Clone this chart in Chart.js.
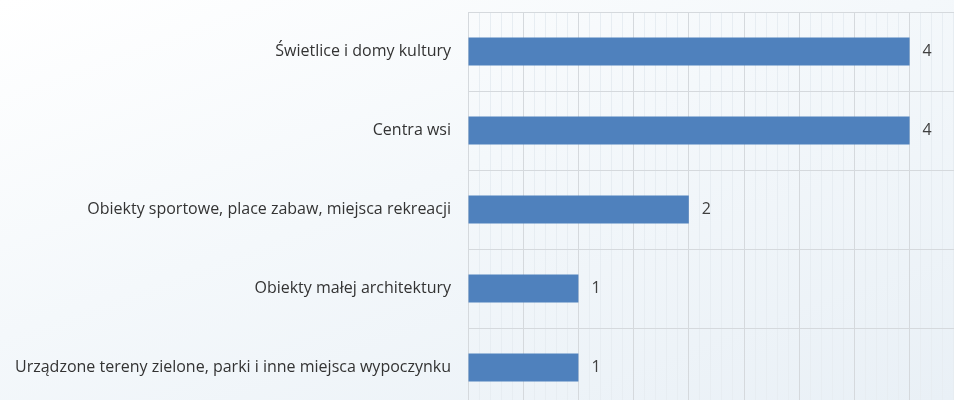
<!DOCTYPE html>
<html>
<head>
<meta charset="utf-8">
<script src="https://cdn.jsdelivr.net/npm/chart.js@4"></script>
<style>
  html, body { margin: 0; padding: 0; overflow: hidden; }
  body {
    width: 954px; height: 400px;
    background: linear-gradient(160deg, #ffffff 0%, #f4f8fb 45%, #e9f0f6 100%);
  }
  #wrap { position: absolute; left: 0; top: 0; }
</style>
</head>
<body>
<div id="wrap"><canvas id="chart" width="1020" height="407"></canvas></div>
<script>
const categories = [
  'Świetlice i domy kultury',
  'Centra wsi',
  'Obiekty sportowe, place zabaw, miejsca rekreacji',
  'Obiekty małej architektury',
  'Urządzone tereny zielone, parki i inne miejsca wypoczynku'
];
const values = [4, 4, 2, 1, 1];

const FONT = '"Open Sans", "Noto Sans", sans-serif';

const isMajor = v => Math.abs(v * 2 - Math.round(v * 2)) < 1e-6;

const valueLabels = {
  id: 'valueLabels',
  afterDatasetsDraw(chart) {
    const ctx = chart.ctx;
    const meta = chart.getDatasetMeta(0);
    ctx.save();
    ctx.font = '16px ' + FONT;
    ctx.fillStyle = '#404040';
    ctx.textAlign = 'left';
    ctx.textBaseline = 'middle';
    meta.data.forEach((bar, i) => {
      ctx.fillText(String(values[i]), bar.x + 13, bar.y);
    });
    ctx.restore();
  }
};

new Chart(document.getElementById('chart'), {
  type: 'bar',
  data: {
    labels: categories,
    datasets: [{
      data: values,
      backgroundColor: '#4f81bd',
      borderWidth: 0,
      barPercentage: 0.355,
      categoryPercentage: 1
    }]
  },
  options: {
    indexAxis: 'y',
    responsive: false,
    animation: false,
    layout: { padding: { top: 12, left: 0, right: 0, bottom: 0 } },
    plugins: {
      legend: { display: false },
      tooltip: { enabled: false }
    },
    scales: {
      x: {
        min: 0,
        max: 5,
        ticks: { display: false, stepSize: 0.1 },
        grid: {
          drawTicks: false,
          color: ctx => isMajor(ctx.tick.value) ? '#d5d9dd' : '#e7edf2',
          lineWidth: 1
        },
        border: { display: false },
        afterFit: scale => {
          scale.height = 0;
          scale.paddingLeft = 0; scale.paddingRight = 0;
          scale.paddingTop = 0; scale.paddingBottom = 0;
        }
      },
      y: {
        ticks: {
          color: '#333333',
          padding: 17,
          font: { family: FONT, size: 16 }
        },
        grid: {
          drawTicks: false,
          color: '#d5d9dd',
          lineWidth: 1
        },
        border: { display: true, color: '#d5d9dd' },
        afterFit: scale => {
          scale.width = 468;
          scale.paddingTop = 0; scale.paddingBottom = 0;
        }
      }
    }
  },
  plugins: [valueLabels]
});
</script>
</body>
</html>
